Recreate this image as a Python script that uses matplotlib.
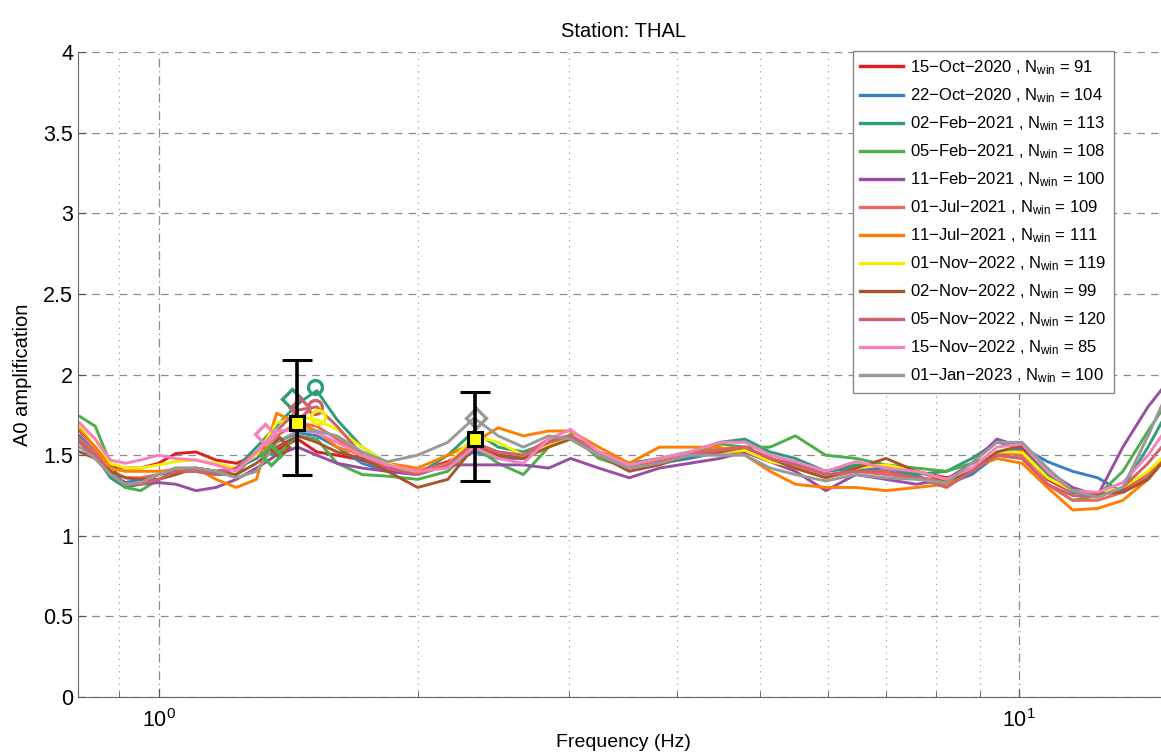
import matplotlib.pyplot as plt
import matplotlib.ticker as mticker
import numpy as np

plt.rcParams['font.family'] = ['Liberation Sans', 'DejaVu Sans']
plt.rcParams['mathtext.fontset'] = 'custom'
plt.rcParams['mathtext.rm'] = 'Liberation Sans'
plt.rcParams['mathtext.it'] = 'Liberation Sans'

# frequency samples (Hz)
freq = [0.81, 0.844, 0.879, 0.915, 0.953, 1.0, 1.047, 1.105, 1.166, 1.231, 1.299, 1.371,
        1.451, 1.527, 1.612, 1.724, 1.845, 2.0, 2.168, 2.326, 2.481, 2.654, 2.84, 3.012,
        3.248, 3.523, 3.819, 4.141, 4.49, 4.803, 5.137, 5.496, 5.96, 6.462, 7.006, 7.597,
        8.236, 8.81, 9.425, 10.08, 10.79, 11.54, 12.34, 13.2, 14.12, 14.91]

dates = ['15-Oct-2020', '22-Oct-2020', '02-Feb-2021', '05-Feb-2021', '11-Feb-2021',
         '01-Jul-2021', '11-Jul-2021', '01-Nov-2022', '02-Nov-2022', '05-Nov-2022',
         '15-Nov-2022', '01-Jan-2023']
nwin = [91, 104, 113, 108, 100, 109, 111, 119, 99, 120, 85, 100]
colors = ['#e41a1c', '#3a7fc1', '#2e9e78', '#4daf4a', '#984ea3', '#e8685f',
          '#ff7f00', '#f2f200', '#a65628', '#cf626e', '#f781bf', '#999999']

a_15oct20 = [1.65, 1.55, 1.43, 1.42, 1.42, 1.45, 1.51, 1.52, 1.47, 1.45, 1.50, 1.53,
             1.60, 1.52, 1.50, 1.47, 1.42, 1.40, 1.46, 1.55, 1.50, 1.48, 1.58, 1.62,
             1.52, 1.44, 1.46, 1.50, 1.52, 1.52, 1.46, 1.46, 1.40, 1.43, 1.42, 1.40,
             1.36, 1.40, 1.50, 1.53, 1.35, 1.27, 1.26, 1.28, 1.38, 1.50]
a_22oct20 = [1.62, 1.52, 1.38, 1.33, 1.35, 1.38, 1.40, 1.42, 1.40, 1.42, 1.48, 1.58,
             1.64, 1.62, 1.55, 1.45, 1.40, 1.38, 1.44, 1.52, 1.48, 1.48, 1.58, 1.62,
             1.50, 1.43, 1.45, 1.48, 1.52, 1.53, 1.47, 1.45, 1.40, 1.42, 1.40, 1.37,
             1.32, 1.38, 1.50, 1.55, 1.46, 1.40, 1.36, 1.27, 1.36, 1.50]
a_02feb21 = [1.60, 1.50, 1.36, 1.30, 1.32, 1.38, 1.42, 1.40, 1.38, 1.42, 1.55, 1.68,
             1.82, 1.90, 1.72, 1.55, 1.45, 1.38, 1.50, 1.65, 1.55, 1.52, 1.58, 1.62,
             1.52, 1.45, 1.48, 1.52, 1.58, 1.60, 1.52, 1.48, 1.40, 1.44, 1.42, 1.38,
             1.40, 1.48, 1.58, 1.55, 1.38, 1.27, 1.25, 1.30, 1.55, 1.78]
a_05feb21 = [1.74, 1.68, 1.45, 1.30, 1.28, 1.35, 1.40, 1.40, 1.38, 1.38, 1.52, 1.50,
             1.62, 1.60, 1.45, 1.38, 1.37, 1.35, 1.40, 1.55, 1.45, 1.38, 1.55, 1.63,
             1.48, 1.42, 1.46, 1.50, 1.57, 1.55, 1.55, 1.62, 1.50, 1.48, 1.44, 1.42,
             1.40, 1.45, 1.50, 1.48, 1.32, 1.22, 1.25, 1.40, 1.65, 1.84]
a_11feb21 = [1.58, 1.48, 1.38, 1.33, 1.32, 1.33, 1.32, 1.28, 1.30, 1.35, 1.42, 1.50,
             1.55, 1.50, 1.45, 1.42, 1.40, 1.38, 1.44, 1.44, 1.44, 1.44, 1.42, 1.48,
             1.42, 1.36, 1.42, 1.45, 1.48, 1.52, 1.46, 1.40, 1.28, 1.38, 1.35, 1.32,
             1.35, 1.45, 1.60, 1.55, 1.40, 1.30, 1.25, 1.55, 1.80, 1.96]
a_01jul21 = [1.60, 1.52, 1.40, 1.36, 1.36, 1.38, 1.42, 1.42, 1.40, 1.42, 1.50, 1.62,
             1.70, 1.68, 1.60, 1.50, 1.44, 1.40, 1.45, 1.56, 1.52, 1.50, 1.60, 1.62,
             1.52, 1.44, 1.47, 1.51, 1.54, 1.55, 1.47, 1.42, 1.36, 1.40, 1.38, 1.36,
             1.34, 1.40, 1.52, 1.50, 1.32, 1.22, 1.22, 1.27, 1.38, 1.52]
a_11jul21 = [1.66, 1.55, 1.42, 1.40, 1.40, 1.40, 1.41, 1.42, 1.35, 1.30, 1.35, 1.76,
             1.70, 1.65, 1.55, 1.50, 1.45, 1.42, 1.50, 1.58, 1.67, 1.62, 1.65, 1.65,
             1.55, 1.45, 1.55, 1.55, 1.55, 1.50, 1.40, 1.32, 1.30, 1.30, 1.28, 1.30,
             1.32, 1.42, 1.48, 1.45, 1.30, 1.16, 1.17, 1.22, 1.35, 1.50]
a_01nov22 = [1.68, 1.60, 1.45, 1.42, 1.42, 1.44, 1.46, 1.47, 1.45, 1.42, 1.50, 1.70,
             1.74, 1.72, 1.66, 1.55, 1.45, 1.38, 1.44, 1.62, 1.58, 1.50, 1.56, 1.60,
             1.50, 1.42, 1.46, 1.50, 1.52, 1.53, 1.46, 1.43, 1.36, 1.42, 1.44, 1.40,
             1.35, 1.40, 1.52, 1.52, 1.36, 1.28, 1.26, 1.30, 1.40, 1.52]
a_02nov22 = [1.52, 1.48, 1.40, 1.36, 1.35, 1.35, 1.38, 1.42, 1.40, 1.38, 1.45, 1.55,
             1.62, 1.58, 1.52, 1.48, 1.40, 1.30, 1.35, 1.55, 1.50, 1.48, 1.55, 1.60,
             1.50, 1.40, 1.44, 1.50, 1.52, 1.55, 1.48, 1.42, 1.36, 1.42, 1.48, 1.40,
             1.34, 1.40, 1.52, 1.56, 1.40, 1.28, 1.26, 1.27, 1.35, 1.50]
a_05nov22 = [1.58, 1.50, 1.38, 1.32, 1.32, 1.35, 1.40, 1.40, 1.38, 1.42, 1.52, 1.65,
             1.78, 1.80, 1.68, 1.50, 1.42, 1.38, 1.44, 1.58, 1.52, 1.50, 1.58, 1.62,
             1.50, 1.42, 1.46, 1.50, 1.53, 1.55, 1.48, 1.44, 1.38, 1.40, 1.40, 1.36,
             1.30, 1.40, 1.50, 1.48, 1.32, 1.25, 1.24, 1.30, 1.45, 1.60]
a_15nov22 = [1.70, 1.60, 1.47, 1.45, 1.47, 1.50, 1.48, 1.47, 1.44, 1.40, 1.52, 1.65,
             1.66, 1.64, 1.58, 1.50, 1.44, 1.40, 1.42, 1.55, 1.48, 1.45, 1.60, 1.66,
             1.52, 1.44, 1.48, 1.52, 1.58, 1.58, 1.50, 1.46, 1.40, 1.46, 1.42, 1.40,
             1.35, 1.42, 1.55, 1.57, 1.40, 1.28, 1.27, 1.33, 1.50, 1.68]
a_01jan23 = [1.55, 1.48, 1.38, 1.32, 1.33, 1.38, 1.42, 1.42, 1.40, 1.36, 1.40, 1.58,
             1.65, 1.65, 1.62, 1.52, 1.46, 1.50, 1.58, 1.73, 1.62, 1.55, 1.62, 1.60,
             1.50, 1.42, 1.45, 1.50, 1.50, 1.50, 1.42, 1.38, 1.34, 1.38, 1.36, 1.35,
             1.33, 1.45, 1.58, 1.58, 1.42, 1.28, 1.24, 1.30, 1.62, 1.90]

curves = [a_15oct20, a_22oct20, a_02feb21, a_05feb21, a_11feb21, a_01jul21,
          a_11jul21, a_01nov22, a_02nov22, a_05nov22, a_15nov22, a_01jan23]

# picked peaks: (series index, freq, amplitude, marker)
peak_idx = [2, 2, 9, 9, 7, 10, 8, 3, 11]
peak_f = [1.43, 1.52, 1.46, 1.52, 1.53, 1.33, 1.38, 1.35, 2.34]
peak_a = [1.85, 1.92, 1.79, 1.80, 1.74, 1.63, 1.55, 1.50, 1.73]
peak_m = ['D', 'o', 'D', 'o', 'o', 'D', 'D', 'D', 'D']

# mean peak with error bars
pk_f = [1.45, 2.33]
pk_a = [1.70, 1.60]
pk_lo = [0.32, 0.26]
pk_hi = [0.39, 0.29]

fig = plt.figure(figsize=(11.61, 7.56), dpi=100)
ax = fig.add_axes([0.0672, 0.078, 0.94, 0.853])

for d, n, c, y in zip(dates, nwin, colors, curves):
    ax.plot(freq, y, color=c, lw=2.1,
            label=d.replace('-', '\u2212') + ' , N$_{\\mathrm{win}}$ = %d' % n)

for i, f, a, m in zip(peak_idx, peak_f, peak_a, peak_m):
    ax.plot(f, a, m, ms=10, mfc='none', mec=colors[i], mew=2.4)

ax.errorbar(pk_f, pk_a, yerr=[pk_lo, pk_hi], fmt='s', color='k', ms=10,
            mfc='#ffff00', mec='k', mew=2.2, elinewidth=2.6, capsize=11, capthick=2.6,
            zorder=5)

ax.set_xscale('log')
ax.set_xlim(0.806, 14.95)
ax.set_ylim(0, 4)
ax.set_yticks(np.arange(0, 4.01, 0.5))
ax.yaxis.set_major_formatter(mticker.FuncFormatter(lambda v, p: '%g' % v))
ax.xaxis.set_minor_locator(mticker.LogLocator(base=10, subs=np.arange(2, 10)))
ax.xaxis.set_minor_formatter(mticker.NullFormatter())

ax.grid(axis='y', which='major', color='#8c8c8c', ls=(0, (6, 5)), lw=0.9)
ax.grid(axis='x', which='major', color='#8c8c8c', ls=(0, (7, 3, 1, 3)), lw=0.9)
ax.grid(axis='x', which='minor', color='#a0a0a0', ls=(0, (1, 4)), lw=0.9)
ax.set_axisbelow(True)

ax.tick_params(which='both', direction='in', labelsize=15.5, color='#555555')
ax.tick_params(axis='x', pad=9)
ax.tick_params(which='major', length=6)
ax.tick_params(which='minor', length=4)
for s in ['top', 'right']:
    ax.spines[s].set_visible(False)
for s in ['left', 'bottom']:
    ax.spines[s].set_color('#666666')

ax.set_title('Station: THAL', fontsize=14.5, pad=11)
ax.set_xlabel('Frequency (Hz)', fontsize=14, labelpad=1)
ax.set_ylabel('A0 amplification', fontsize=14.5, labelpad=8)

leg = ax.legend(loc='upper right', bbox_to_anchor=(0.957, 1.015), fontsize=12,
                handlelength=2.6, handletextpad=0.4, labelspacing=0.56, borderpad=0.45,
                fancybox=False, framealpha=1, edgecolor='#888888')
for h in leg.get_lines():
    h.set_linewidth(2.4)

fig.savefig('out.png', dpi=100)
